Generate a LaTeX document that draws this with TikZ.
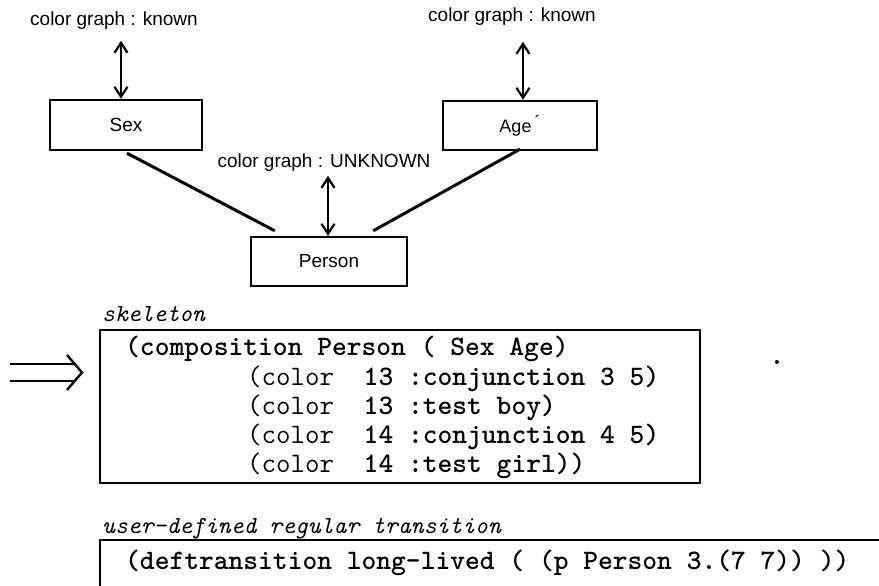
\documentclass[tikz,border=0pt]{standalone}
\usepackage{fontspec}
\setmainfont{Liberation Sans}
\usetikzlibrary{arrows.meta,calc}
\begin{document}
\begin{tikzpicture}[x=1pt,y=-1pt,
  box/.style={draw,line width=2.4pt,inner sep=0pt,font=\fontsize{19}{22}\selectfont},
  lbl/.style={font=\fontsize{19}{22}\selectfont,inner sep=0pt},
  biarrow/.style={line width=2.2pt,{Straight Barb[length=10pt,width=13pt]}-{Straight Barb[length=10pt,width=13pt]}},
  link/.style={line width=3pt},
  code/.style={font=\fontsize{28.15}{30}\selectfont\ttfamily\bfseries,anchor=base west,inner sep=0pt},
  capt/.style={font=\fontsize{24.5}{26}\selectfont\ttfamily\itshape,anchor=base west,inner sep=0pt},
  frame/.style={line width=2.4pt}]
\useasboundingbox (0,0) rectangle (879,586);

% top graph
\node[lbl] (lknown) at (114,21) {color graph : known};
\node[lbl] (rknown) at (512,17) {color graph : known};
\node[box,minimum width=152pt,minimum height=50pt] (sex) at (126,125) {Sex};
\node[box,minimum width=154pt,minimum height=49pt] (age) at (520,125.5) {\fontsize{18}{20}\selectfont\raisebox{0.2ex}{Age}\,\raisebox{0.6ex}{\textasciiacute}};
\node[lbl] (unk) at (324,163) {color graph : UNKNOWN};
\node[box,minimum width=156pt,minimum height=49pt] (person) at (329,261.5) {Person};

\draw[biarrow] ($(sex.north)+(-5,-58)$) -- ($(sex.north)+(-5,0)$);
\draw[biarrow] ($(age.north)+(3,-58)$) -- ($(age.north)+(3,0)$);
\draw[biarrow] ($(person.north)+(-1,-60)$) -- ($(person.north)+(-1,0)$);

\draw[link] ($(sex.south)+(1,2)$) -- ($(person.north west)+(25,-5)$);
\draw[link] ($(age.south)+(0,-2)$) -- ($(person.north east)+(-35,-5)$);

% double arrow
\draw[frame] (10,364) -- (74,364) (10,381) -- (74,381);
\draw[frame,line join=miter] (67,355) -- (82,372.5) -- (67,390);

% skeleton
\node[capt] (skelcap) at (102,321) {skeleton};
\node[draw,line width=2.4pt,minimum width=600pt,minimum height=153pt,inner sep=0pt] (skel) at (400,406.5) {};
\node[code] (c1) at (125,355) {(composition Person ( Sex Age)};
\node[code] (c2) at (247,385) {{\mdseries(color}\ \ 13 :conjunction 3 5)};
\node[code] (c3) at (247,414) {{\mdseries(color}\ \ 13 :test boy)};
\node[code] (c4) at (247,443) {{\mdseries(color}\ \ 14 :conjunction 4 5)};
\node[code] (c5) at (247,472) {{\mdseries(color}\ \ 14 :test girl))};
\fill (777,362) circle (2pt);

% user-defined transition
\node[capt] (udcap) at (102,533) {user-defined regular transition};
\draw[frame] (885,540) -- (100,540) -- (100,592);
\node[code] (d1) at (125,569) {(deftransition long-lived ( (p Person 3.(7 7)) ))};
\end{tikzpicture}
\end{document}
